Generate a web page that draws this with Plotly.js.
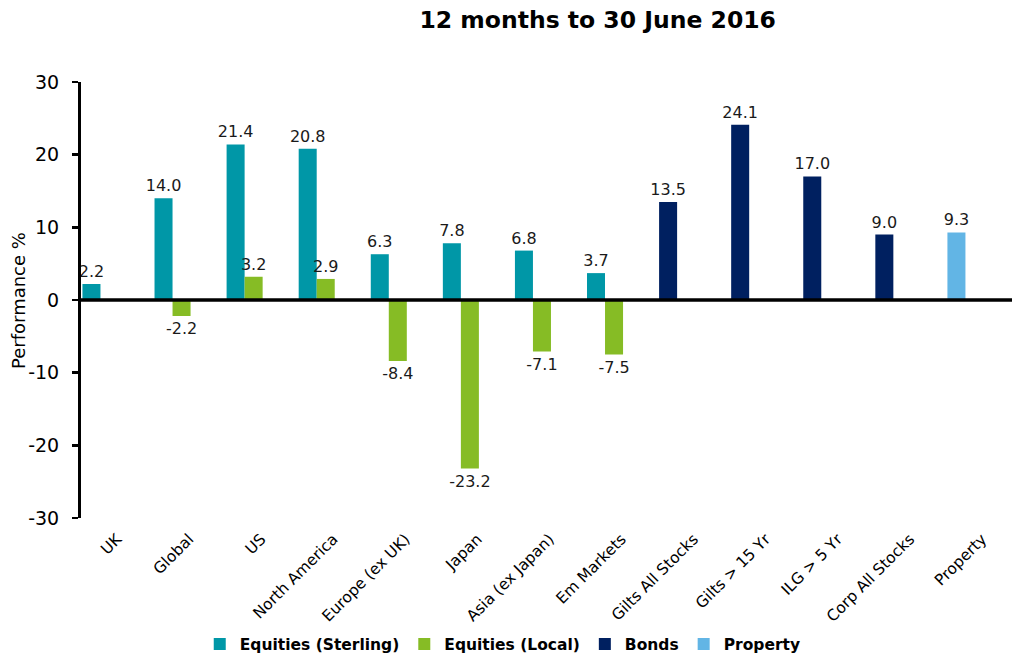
<!DOCTYPE html>
<html>
<head>
<meta charset="utf-8">
<script src="https://cdn.plot.ly/plotly-3.0.1.min.js"></script>
<style>html,body{margin:0;padding:0;background:#fff;}#chart{width:1012px;height:662px;}</style>
</head>
<body>
<div id="chart"></div>
<script>
// Categories
const categories = ["UK", "Global", "US", "North America", "Europe (ex UK)", "Japan", "Asia (ex Japan)", "Em Markets", "Gilts All Stocks", "Gilts > 15 Yr", "ILG > 5 Yr", "Corp All Stocks", "Property"];

// Series
const equityCats = ["UK", "Global", "US", "North America", "Europe (ex UK)", "Japan", "Asia (ex Japan)", "Em Markets"];
const equitiesSterling = [2.2, 14.0, 21.4, 20.8, 6.3, 7.8, 6.8, 3.7];
const localCats = ["Global", "US", "North America", "Europe (ex UK)", "Japan", "Asia (ex Japan)", "Em Markets"];
const equitiesLocal = [-2.2, 3.2, 2.9, -8.4, -23.2, -7.1, -7.5];
const bondCats = ["Gilts All Stocks", "Gilts > 15 Yr", "ILG > 5 Yr", "Corp All Stocks"];
const bonds = [13.5, 24.1, 17.0, 9.0];
const propertyCats = ["Property"];
const property = [9.3];

// Y ticks
const yTickVals = [-30, -20, -10, 0, 10, 20, 30];
const yTickText = ["-30", "-20", "-10", "0", "10", "20", "30"];

const FONT = "DejaVu Sans, Verdana, sans-serif";
const labelFont = {family: FONT, size: 16, color: "#1a1a1a"};

function barTrace(name, x, y, color, offset) {
  return {
    type: "bar", name: name, x: x, y: y,
    marker: {color: color},
    offset: offset, width: 0.25,
    text: y.map(v => v.toFixed(1)),
    textposition: "outside",
    constraintext: "none",
    cliponaxis: false,
    textfont: labelFont,
    hoverinfo: "x+y"
  };
}

const data = [
  barTrace("Equities (Sterling)", equityCats, equitiesSterling, "#0097A7", -0.48),
  barTrace("Equities (Local)", localCats, equitiesLocal, "#86BC25", -0.23),
  barTrace("Bonds", bondCats, bonds, "#002060", -0.48),
  barTrace("Property", propertyCats, property, "#62B5E5", -0.48)
];

const layout = {
  width: 1012, height: 662,
  margin: {l: 81, r: 0, t: 82, b: 142, pad: 0},
  paper_bgcolor: "#fff", plot_bgcolor: "#fff",
  font: {family: FONT, color: "#000"},
  barmode: "overlay",
  title: {
    text: "<b>12 months to 30 June 2016</b>",
    font: {family: FONT, size: 23.5, color: "#000"},
    xref: "paper", x: 0.555, xanchor: "center",
    yref: "container", y: 0.97, yanchor: "middle"
  },
  xaxis: {
    type: "category",
    categoryorder: "array", categoryarray: categories,
    range: [-0.5, 12.416],
    tickangle: -45,
    tickfont: {family: FONT, size: 15.5, color: "#000"},
    ticklabelstandoff: 8,
    showline: false, showgrid: false, zeroline: false,
    ticks: "", fixedrange: true
  },
  yaxis: {
    range: [-30, 30],
    tickvals: yTickVals, ticktext: yTickText,
    tickfont: {family: FONT, size: 19, color: "#000"},
    showline: true, linecolor: "#000", linewidth: 3,
    ticks: "outside", ticklen: 6, tickwidth: 2.5, tickcolor: "#000",
    ticklabelstandoff: 9,
    showgrid: false, zeroline: false
  },
  annotations: [{
    text: "Performance %", textangle: -90,
    xref: "paper", x: -0.0677, xanchor: "center",
    yref: "paper", y: 0.5, yanchor: "middle",
    showarrow: false,
    font: {family: FONT, size: 18, color: "#000"}
  }],
  shapes: [{
    type: "line", xref: "paper", x0: 0, x1: 1, yref: "y", y0: 0, y1: 0,
    line: {color: "#000", width: 3.5}, layer: "above"
  }],
  legend: {
    orientation: "h",
    xref: "paper", x: 0.453, xanchor: "center",
    yref: "paper", y: -0.29, yanchor: "middle",
    font: {family: FONT, size: 15.5, color: "#000", weight: "bold"},
    itemwidth: 30, traceorder: "normal"
  },
  showlegend: true
};

Plotly.newPlot("chart", data, layout, {displayModeBar: false, staticPlot: true});
</script>
</body>
</html>
